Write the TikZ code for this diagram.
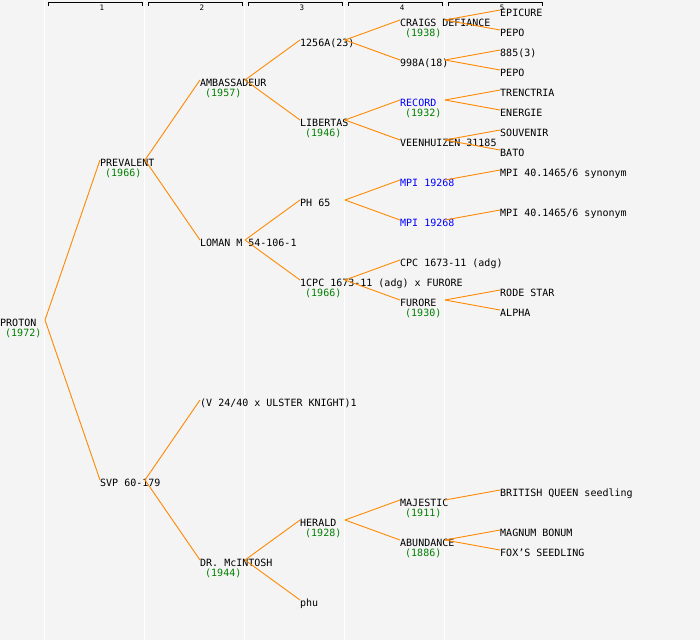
\documentclass[tikz,border=0pt]{standalone}
\usepackage{fontspec}
\newfontfamily\monof{DejaVu Sans Mono}
\usetikzlibrary{calc}
\definecolor{bgc}{HTML}{F4F4F4}
\definecolor{edgec}{HTML}{FF8800}
\definecolor{yrc}{HTML}{008000}
\definecolor{bluec}{HTML}{0000FF}
\newcommand\tn[5][black]{%
  \coordinate (#2-in) at (100*#3,#4);
  \coordinate (#2-out) at (100*#3+45,#4);
  \node[lbl,text=#1] (#2) at (100*#3,#4+6) {#5};}
\newcommand\yr[2]{\node[yrlbl] (#1-yr) at ($(#1-in)+(5,16.5)$) {#2};}
\newcommand\ed[2]{\draw[edge] (#1-out) -- (#2-in);}
\begin{document}
\begin{tikzpicture}[x=1pt,y=-1pt,
  lbl/.style={font=\monof\fontsize{10}{12}\selectfont, inner sep=0pt, anchor=base west},
  yrlbl/.style={lbl, text=yrc},
  edge/.style={draw=edgec, line width=0.9pt},
  sepline/.style={draw=white, line width=1pt},
  hdr/.style={draw=black, line width=0.9pt},
  hnum/.style={font=\monof\fontsize{7.5}{8}\selectfont, inner sep=0pt, anchor=base}]
\fill[bgc] (0,0) rectangle (700,640);
\useasboundingbox (0,0) rectangle (700,640);
% column separators
\foreach \k in {0,...,4} {\draw[sepline] (44.5+100*\k,0) -- (44.5+100*\k,640);}
% nodes
\tn{r}{0}{320}{PROTON} \yr{r}{(1972)}
\tn{a}{1}{160}{PREVALENT} \yr{a}{(1966)}
\tn{b}{1}{480}{SVP 60-179}
\tn{aa}{2}{80}{AMBASSADEUR} \yr{aa}{(1957)}
\tn{ab}{2}{240}{LOMAN M 54-106-1}
\tn{ba}{2}{400}{(V 24/40 x ULSTER KNIGHT)1}
\tn{bb}{2}{560}{DR. McINTOSH} \yr{bb}{(1944)}
\tn{aaa}{3}{40}{1256A(23)}
\tn{aab}{3}{120}{LIBERTAS} \yr{aab}{(1946)}
\tn{aba}{3}{200}{PH 65}
\tn{abb}{3}{280}{1CPC 1673-11 (adg) x FURORE} \yr{abb}{(1966)}
\tn{bba}{3}{520}{HERALD} \yr{bba}{(1928)}
\tn{bbb}{3}{600}{phu}
\tn{aaaa}{4}{20}{CRAIGS DEFIANCE} \yr{aaaa}{(1938)}
\tn{aaab}{4}{60}{998A(18)}
\tn[bluec]{aaba}{4}{100}{RECORD} \yr{aaba}{(1932)}
\tn{aabb}{4}{140}{VEENHUIZEN 31185}
\tn[bluec]{abaa}{4}{180}{MPI 19268}
\tn[bluec]{abab}{4}{220}{MPI 19268}
\tn{abba}{4}{260}{CPC 1673-11 (adg)}
\tn{abbb}{4}{300}{FURORE} \yr{abbb}{(1930)}
\tn{bbaa}{4}{500}{MAJESTIC} \yr{bbaa}{(1911)}
\tn{bbab}{4}{540}{ABUNDANCE} \yr{bbab}{(1886)}
\tn{aaaaa}{5}{10}{EPICURE}
\tn{aaaab}{5}{30}{PEPO}
\tn{aaaba}{5}{50}{885(3)}
\tn{aaabb}{5}{70}{PEPO}
\tn{aabaa}{5}{90}{TRENCTRIA}
\tn{aabab}{5}{110}{ENERGIE}
\tn{aabba}{5}{130}{SOUVENIR}
\tn{aabbb}{5}{150}{BATO}
\tn{abaaa}{5}{170}{MPI 40.1465/6 synonym}
\tn{ababa}{5}{210}{MPI 40.1465/6 synonym}
\tn{abbba}{5}{290}{RODE STAR}
\tn{abbbb}{5}{310}{ALPHA}
\tn{bbaaa}{5}{490}{BRITISH QUEEN seedling}
\tn{bbaba}{5}{530}{MAGNUM BONUM}
\tn{bbabb}{5}{550}{FOX’S SEEDLING}
% edges
\ed{r}{a} \ed{r}{b}
\ed{a}{aa} \ed{a}{ab} \ed{b}{ba} \ed{b}{bb}
\ed{aa}{aaa} \ed{aa}{aab} \ed{ab}{aba} \ed{ab}{abb} \ed{bb}{bba} \ed{bb}{bbb}
\ed{aaa}{aaaa} \ed{aaa}{aaab} \ed{aab}{aaba} \ed{aab}{aabb}
\ed{aba}{abaa} \ed{aba}{abab} \ed{abb}{abba} \ed{abb}{abbb}
\ed{bba}{bbaa} \ed{bba}{bbab}
\ed{aaaa}{aaaaa} \ed{aaaa}{aaaab} \ed{aaab}{aaaba} \ed{aaab}{aaabb}
\ed{aaba}{aabaa} \ed{aaba}{aabab} \ed{aabb}{aabba} \ed{aabb}{aabbb}
\ed{abaa}{abaaa} \ed{abab}{ababa} \ed{abbb}{abbba} \ed{abbb}{abbbb}
\ed{bbaa}{bbaaa} \ed{bbab}{bbaba} \ed{bbab}{bbabb}
% header
\foreach \k in {1,...,5} {
  \draw[hdr] (100*\k-52,5.5) -- (100*\k-52,2) -- (100*\k+42,2) -- (100*\k+42,5.5);
  \node[hnum] (h\k) at (100*\k+2,10) {\k};
}
\end{tikzpicture}
\end{document}
